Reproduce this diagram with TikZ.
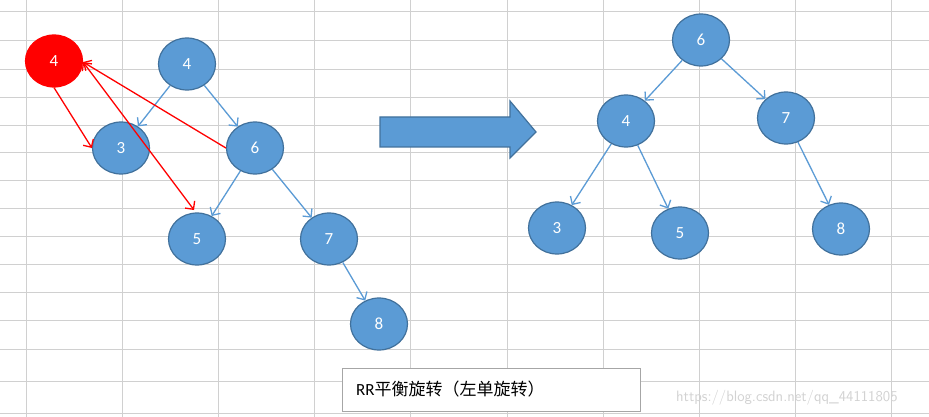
\documentclass[tikz,border=0pt]{standalone}
\usepackage{fontspec}
\setmainfont{Carlito}
\newfontfamily\cjk{Noto Sans CJK SC}
\usetikzlibrary{arrows.meta}
\definecolor{nodeblue}{HTML}{5B9BD5}
\definecolor{edgeblue}{HTML}{41719C}
\definecolor{gridc}{HTML}{D0D0D0}
\tikzset{
  tn/.style={ellipse,draw=edgeblue,line width=1.2pt,fill=nodeblue,minimum width=57pt,minimum height=52pt,inner sep=0pt,text=white,font=\fontsize{17}{20}\selectfont},
  bl/.style={draw=nodeblue,line width=1.3pt,-{Straight Barb[length=6pt,width=12pt]}},
  rd/.style={draw=red,line width=1.3pt,-{Straight Barb[length=6pt,width=12pt]}},
}
\usetikzlibrary{shapes.geometric}
\begin{document}
\begin{tikzpicture}[x=1pt,y=-1pt]
\useasboundingbox (0,0) rectangle (929,417);
\fill[white] (0,0) rectangle (929,417);
\foreach \x in {26,122,218,314,410,507,603,699,795,891}
  \draw[gridc,line width=0.8pt] (\x,0) -- (\x,417);
\foreach \y in {11,40,69,97,125,152,180,208,236,264,292,320,349,381,413}
  \draw[gridc,line width=0.8pt] (0,\y) -- (929,\y);
% left tree
\node[tn,fill=red,draw=red] (r4) at (54,61) {4};
\node[tn] (a4) at (187,64) {4};
\node[tn] (a3) at (121,148) {3};
\node[tn] (a6) at (255,148) {6};
\node[tn] (a5) at (197,239) {5};
\node[tn] (a7) at (329,239) {7};
\node[tn] (a8) at (379,324) {8};
\draw[bl] (a4) -- (a3);
\draw[bl] (a4) -- (a6);
\draw[bl] (a6) -- (a5);
\draw[bl] (a6) -- (a7);
\draw[bl] (a7) -- (a8);
\coordinate (rp) at (83,62);
\coordinate (fp) at (194,210);
\draw[rd] (r4.south) -- (a3.west);
\draw[rd] (a6.west) -- (rp);
\draw[rd,{Straight Barb[length=6pt,width=12pt]}-{Straight Barb[length=6pt,width=12pt]}] (rp) -- (fp);
% big arrow
\draw[fill=nodeblue,draw=edgeblue,line width=1.2pt] (380,117) -- (510,117) -- (510,101) -- (536,132) -- (510,158) -- (510,147) -- (380,147) -- cycle;
% right tree
\node[tn] (b6) at (701,40) {6};
\node[tn] (b4) at (626,121) {4};
\node[tn] (b7) at (786,118) {7};
\node[tn] (b3) at (557,228) {3};
\node[tn] (b5) at (680,233) {5};
\node[tn] (b8) at (841,229) {8};
\draw[bl] (b6) -- (b4);
\draw[bl] (b6) -- (b7);
\draw[bl] (b4) -- (b3);
\draw[bl] (b4) -- (b5);
\draw[bl] (b7) -- (b8);
% label
\node[draw=gray!70,line width=1.2pt,fill=white,minimum width=298pt,minimum height=43pt,anchor=north west,inner sep=0pt] (lab) at (342,368) {};
\node[anchor=west,font=\fontsize{17}{20}\selectfont,inner sep=0pt] (labt) at (356,389) {RR{\cjk 平衡旋转（左单旋转）}};
\node[anchor=west,text=gray!35,font=\sffamily\fontsize{15}{18}\selectfont,inner sep=0pt] (wm) at (676,398) {https://blog.csdn.net/qq\_44111805};
\end{tikzpicture}
\end{document}
